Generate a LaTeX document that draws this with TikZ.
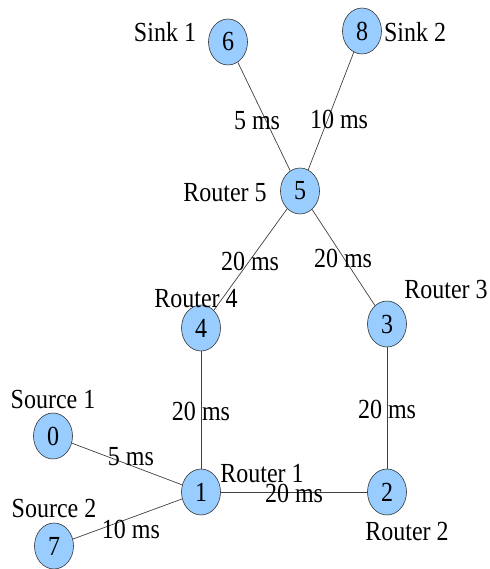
\documentclass[tikz,border=0pt]{standalone}
\usepackage{fontspec}
\setmainfont{Liberation Serif}
\usetikzlibrary{shapes.geometric}
\newcommand{\vst}[1]{\scalebox{1}[1.15]{#1}}
\tikzset{
  netnode/.style={ellipse, draw=black!80, line width=0.6pt, fill={rgb,255:red,153;green,204;blue,255},
    minimum width=39pt, minimum height=46pt, inner sep=0pt, font=\fontsize{24}{24}\selectfont},
  lbl/.style={inner sep=0pt, font=\fontsize{24}{24}\selectfont},
  link/.style={draw=black!75, line width=0.7pt}
}
\begin{document}
\begin{tikzpicture}[x=1pt,y=-1pt]
\useasboundingbox (0,0) rectangle (489,569);
% nodes
\node[netnode] (n6) at (228,42) {\vst{6}};
\node[netnode] (n8) at (362,31) {\vst{8}};
\node[netnode] (n5) at (300,191) {\vst{5}};
\node[netnode] (n4) at (201,328) {\vst{4}};
\node[netnode] (n3) at (387,324) {\vst{3}};
\node[netnode] (n0) at (53,436) {\vst{0}};
\node[netnode] (n1) at (201,492) {\vst{1}};
\node[netnode] (n2) at (387,492) {\vst{2}};
\node[netnode] (n7) at (54,546) {\vst{7}};
% links
\begin{scope}[on background layer/.style={}]
\path[link] (n6) -- (n5);
\path[link] (n8) -- (n5);
\path[link] (n5) -- (n4);
\path[link] (n5) -- (n3);
\path[link] (n4) -- (n1);
\path[link] (n3) -- (n2);
\path[link] (n0) -- (n1);
\path[link] (n7) -- (n1);
\path[link] (n1) -- (n2);
\end{scope}
% node names
\node[lbl] (t6) at (165,32) {\vst{Sink 1}};
\node[lbl] (t8) at (415,32) {\vst{Sink 2}};
\node[lbl] (t5) at (225,193) {\vst{Router 5}};
\node[lbl] (t4) at (196,299) {\vst{Router 4}};
\node[lbl] (t3) at (446,289) {\vst{Router 3}};
\node[lbl] (t0) at (53,399) {\vst{Source 1}};
\node[lbl] (t7) at (54,508) {\vst{Source 2}};
\node[lbl] (t1) at (262,474) {\vst{Router 1}};
\node[lbl] (t2) at (407,531) {\vst{Router 2}};
% delays
\node[lbl] (d65) at (257,121) {\vst{5 ms}};
\node[lbl] (d85) at (339,119) {\vst{10 ms}};
\node[lbl] (d54) at (250,261) {\vst{20 ms}};
\node[lbl] (d53) at (343,258) {\vst{20 ms}};
\node[lbl] (d41) at (201,411) {\vst{20 ms}};
\node[lbl] (d32) at (387,409) {\vst{20 ms}};
\node[lbl] (d01) at (131,457) {\vst{5 ms}};
\node[lbl] (d71) at (131,529) {\vst{10 ms}};
\node[lbl] (d12) at (294,493) {\vst{20 ms}};
\end{tikzpicture}
\end{document}
